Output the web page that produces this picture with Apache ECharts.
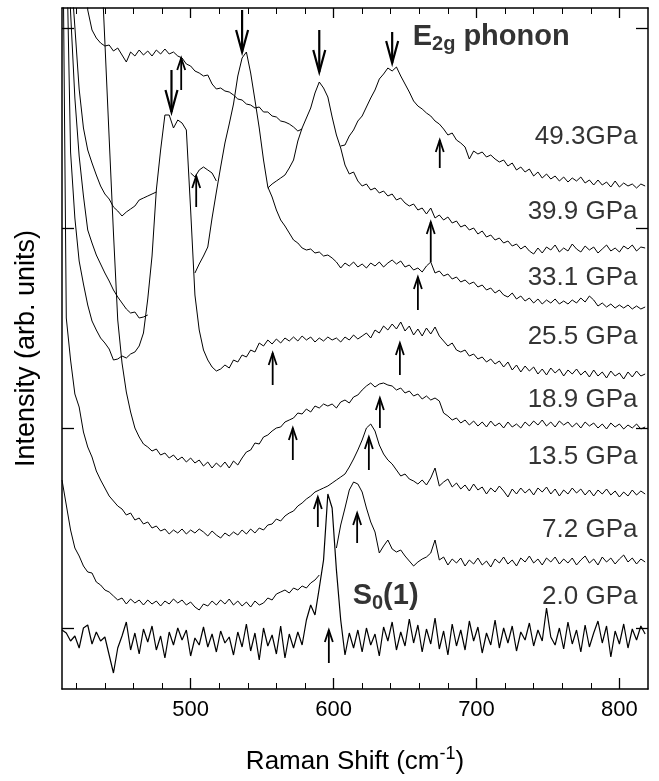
<!DOCTYPE html>
<html>
<head>
<meta charset="utf-8">
<title>Raman spectra under pressure</title>
<script src="https://cdn.jsdelivr.net/npm/echarts@6/dist/echarts.min.js"></script>
<style>
  html, body { margin: 0; padding: 0; background: #fff; }
  #chart { width: 659px; height: 781px; }
</style>
</head>
<body>
<div id="chart"></div>
<script>
// Raman shift sampling (cm^-1)
const shift = [410,413,416,419,422,425,428,431,434,437,440,443,446,449,452,455,458,461,464,467,
  470,473,476,479,482,485,488,491,494,497,500,503,506,509,512,515,518,521,524,527,
  530,533,536,539,542,545,548,551,554,557,560,563,566,569,572,575,578,581,584,587,
  590,593,596,599,602,605,608,611,614,617,620,623,626,629,632,635,638,641,644,647,
  650,653,656,659,662,665,668,671,674,677,680,683,686,689,692,695,698,701,704,707,
  710,713,716,719,722,725,728,731,734,737,740,743,746,749,752,755,758,761,764,767,
  770,773,776,779,782,785,788,791,794,797,800,803,806,809,812,815,818];

// stacked spectra (arb. units, offset as plotted). null = hidden behind a lower trace
const p49_3 = [800,800,800,800,800,800,618,598,590,585, 582,583,577,580,573,566,576,572,578,573,
  577,572,578,574,579,574,576,572,570,564, 562,557,555,552,553,544,539,540,537,536,
  533,529,528,524,523,520,521,516,516,512, 511,507,506,504,501,497,499,null,null,null,
  null,null,null,null,null,482,483,492,498,507, 512,521,530,538,549,554,560,557,561,552,
  544,536,527,522,519,515,512,507,504,499, 493,495,488,485,481,469,477,474,476,471,
  473,469,466,468,462,465,458,461,456,459, 452,456,450,454,449,452,447,451,446,450,
  447,451,445,448,443,448,443,446,441,447, 441,445,442,444,440,444,442];

const p39_9 = [800,800,662,601,539,500,478,465,453,442, 434,429,421,417,412,416,419,422,428,430,
  432,434,436,null,null,null,null,null,null,null, 455,451,458,461,458,455,447,null,null,null,
  null,null,null,null,null,null,null,null,440,444, 447,450,453,460,468,487,500,510,520,535,
  546,540,531,511,493,480,463,454,456,447, 442,444,438,440,435,437,432,434,428,430,
  425,422,424,418,420,414,420,410,413,408, 411,405,407,401,403,398,400,394,397,391,
  393,388,390,385,387,382,384,379,382,377, 374,380,375,381,378,383,376,380,377,384,
  379,376,382,378,381,375,379,383,377,380, 376,382,379,383,377,381,380];

const p33_1 = [800,700,616,530,472,432,398,385,373,364, 355,347,338,331,325,319,315,316,310,311,
  313,null,null,null,null,null,null,null,null,null, null,355,364,372,381,410,436,461,485,504,
  524,552,570,576,555,528,500,468,441,431, 418,408,402,395,388,385,380,378,379,375,
  376,372,373,370,366,360,365,362,366,361, 364,360,365,362,366,361,365,368,364,367,
  361,363,358,360,356,362,366,355,357,352, 354,349,351,346,348,344,346,341,343,338,
  340,335,338,333,331,335,329,332,327,330, 325,329,324,328,325,329,324,327,324,328,
  325,330,326,332,328,322,325,321,324,320, 323,320,323,319,322,319,321];

const p25_5 = [800,698,476,410,367,344,323,307,298,290, 285,279,268,269,272,270,274,276,282,295,
  329,372,438,478,513,513,500,508,505,498, 418,333,298,278,268,261,257,259,263,260,
  268,266,273,271,278,276,285,282,288,284, 289,285,290,287,291,287,292,288,291,286,
  290,287,291,288,290,286,291,288,293,289, 292,295,290,298,295,302,298,304,299,306,
  297,302,293,299,292,300,294,301,292,287, 282,285,278,276,278,272,274,269,271,266,
  269,264,267,261,266,258,263,256,262,257, 261,254,259,253,260,255,259,252,258,254,
  259,253,257,251,258,252,256,250,257,252, 255,249,256,251,257,252,254];

const p18_9 = [800,800,800,800,800,800,800,800,800,681, 586,490,395,308,265,236,216,200,191,184,
  181,177,179,173,175,170,173,168,171,166, 170,165,168,162,166,160,165,161,166,160,
  167,163,170,176,178,185,184,191,193,197, 200,201,206,208,210,215,214,219,216,222,
  220,224,222,224,220,226,228,225,231,233, 238,242,245,241,244,245,243,242,238,240,
  235,237,232,234,229,232,228,230,227,215, 212,208,210,205,208,203,207,202,206,201,
  207,202,205,200,206,201,204,200,206,202, 207,203,208,202,206,201,207,203,206,201,
  205,200,206,202,205,200,204,199,205,201, 204,199,203,200,204,199,201];

const p13_5 = [800,310,268,234,221,196,181,171,157,148, 140,132,127,122,119,113,115,108,110,104,
  106,100,102,97,99,94,98,95,99,94, 98,95,99,96,92,97,93,90,95,92,
  96,93,98,94,99,95,100,98,103,104, 109,107,112,115,117,122,125,129,132,136,
  138,140,142,145,148,151,154,161,169,178, 188,200,204,197,183,174,168,164,158,152,
  154,149,147,144,148,143,150,160,142,146, 149,141,145,139,143,137,144,138,141,134,
  140,136,142,137,131,139,134,140,135,139, 133,140,136,141,134,139,132,138,134,140,
  135,139,133,138,132,138,134,139,133,137, 131,136,132,138,133,137,134];

const p7_2 = [148,123,98,80,72,62,56,55,46,43, 38,36,32,28,30,24,29,25,28,23,
  28,24,27,22,27,24,29,25,28,23, 26,21,18,24,22,27,23,28,24,29,
  23,27,22,26,21,27,23,25,30,28, 34,36,38,35,40,38,42,40,45,48,
  53,null,null,null,80,103,120,138,146,144, 136,120,106,96,75,82,88,79,76,78,
  72,67,62,66,69,71,75,88,68,71, 63,69,65,70,62,68,64,70,63,67,
  61,69,65,71,64,68,62,70,66,72, 65,69,63,70,66,71,64,69,65,70,
  63,68,72,65,69,63,71,66,70,64, 69,73,66,70,64,69,66];

const p2_0 = [-2,-5,-13,-8,-20,0,3,-16,-4,-13, -9,-27,-45,-20,-8,6,-22,-5,-26,-1,
  -14,2,-22,-8,-30,-4,-17,0,-12,-2, -28,-10,-17,1,-19,-6,-24,-3,-15,-9,
  -27,-4,-19,4,-23,-5,-32,0,-18,-7, -26,2,-30,-6,-20,-4,-17,8,23,13,
  40,68,134,120,58,8,-27,-5,-20,-2, -24,0,-17,-6,-28,1,-13,6,-22,-4,
  -18,9,-15,3,-24,-1,-16,10,-21,-3, -27,4,-18,-2,-22,7,-13,1,-25,-5,
  -17,8,-20,0,-15,2,-23,-4,-12,5, -18,-2,-13,20,-9,-17,0,-21,6,-16,
  -2,-24,3,-19,-5,7,-15,2,-29,-3, -16,4,-20,-1,-12,2,-6];

const pressures = ['49.3GPa', '39.9 GPa', '33.1 GPa', '25.5 GPa', '18.9 GPa', '13.5 GPa', '7.2 GPa', '2.0 GPa'];
const spectra = [p49_3, p39_9, p33_1, p25_5, p18_9, p13_5, p7_2, p2_0];
const pressureLabelY = [491, 416, 350, 291, 228, 171, 98, 31];

// E2g phonon markers (down arrows): shift, tail, tip
const e2gX = [486.6, 536.0, 590.0, 641.0];
const e2gTail = [558, 618, 598, 596];
const e2gTip = [516, 576, 556, 565];

// other features (up arrows)
const upX = [493.4, 503.9, 674.3, 668.0, 659.0, 557.4, 646.4, 571.5, 632.4, 624.7, 589.0, 616.5, 596.7];
const upTail = [538, 421, 460, 366, 318, 243, 253, 168, 200, 158, 101, 85, -35];
const upTip = [570, 452, 488, 406, 351, 275, 285, 200, 230, 191, 131, 115, -2];

const majorTicks = [500, 600, 700, 800];
const minorTicks = [420, 440, 460, 480, 520, 540, 560, 580, 620, 640, 660, 680, 720, 740, 760, 780];
const yTicks = [0, 200, 400, 600];

const FONT = '"Liberation Sans", Arial, Helvetica, sans-serif';
const BLACK = '#000';

const chart = echarts.init(document.getElementById('chart'));

function arrowRenderer(head, half, width) {
  return function (params, api) {
    const tail = api.coord([api.value(0), api.value(1)]);
    const tip = api.coord([api.value(0), api.value(2)]);
    const dir = tip[1] > tail[1] ? 1 : -1;
    return {
      type: 'group',
      children: [
        { type: 'line', shape: { x1: tail[0], y1: tail[1], x2: tip[0], y2: tip[1] },
          style: { stroke: BLACK, lineWidth: width } },
        { type: 'polyline',
          shape: { points: [[tip[0] - half, tip[1] - dir * head], [tip[0], tip[1]], [tip[0] + half, tip[1] - dir * head]] },
          style: { stroke: BLACK, fill: null, lineWidth: width } }
      ]
    };
  };
}

const xBase = { type: 'value', min: 410, max: 820, splitLine: { show: false } };
const yBase = { type: 'value', min: -61, max: 620, splitLine: { show: false } };
const frame = { show: true, onZero: false, lineStyle: { color: BLACK, width: 1.5 } };

const option = {
  animation: false,
  backgroundColor: '#fff',
  grid: { left: 62, right: 11, top: 8, bottom: 92, containLabel: false, outerBoundsMode: 'none' },
  xAxis: [
    Object.assign({}, xBase, {
      position: 'bottom',
      axisLine: frame,
      axisTick: { show: true, inside: true, length: 11, customValues: majorTicks, lineStyle: { color: BLACK, width: 1.3 } },
      axisLabel: { customValues: majorTicks, color: BLACK, fontSize: 22, fontFamily: FONT, margin: 10 },
      name: '{n|Raman Shift (cm}{p|-1}{n|)}',
      nameLocation: 'middle',
      nameGap: 56,
      nameTextStyle: {
        rich: {
          n: { fontSize: 26, fontFamily: FONT, color: BLACK, verticalAlign: 'bottom', lineHeight: 30 },
          p: { fontSize: 18, fontFamily: FONT, color: BLACK, verticalAlign: 'top', lineHeight: 18, padding: [0, 0, 20, 0] }
        }
      }
    }),
    Object.assign({}, xBase, {
      position: 'bottom',
      axisLine: { show: false, onZero: false },
      axisTick: { show: true, inside: true, length: 6, customValues: minorTicks, lineStyle: { color: BLACK, width: 1 } },
      axisLabel: { show: false }
    }),
    Object.assign({}, xBase, {
      position: 'top',
      axisLine: frame,
      axisTick: { show: true, inside: true, length: 10, customValues: majorTicks, lineStyle: { color: BLACK, width: 1.3 } },
      axisLabel: { show: false }
    }),
    Object.assign({}, xBase, {
      position: 'top',
      axisLine: { show: false, onZero: false },
      axisTick: { show: true, inside: true, length: 6, customValues: minorTicks, lineStyle: { color: BLACK, width: 1 } },
      axisLabel: { show: false }
    })
  ],
  yAxis: [
    Object.assign({}, yBase, {
      position: 'left',
      axisLine: frame,
      axisTick: { show: true, inside: true, length: 12, customValues: yTicks, lineStyle: { color: BLACK, width: 1.3 } },
      axisLabel: { show: false },
      name: 'Intensity (arb. units)',
      nameLocation: 'middle',
      nameRotate: 90,
      nameGap: 22,
      nameTextStyle: { fontSize: 27, fontFamily: FONT, color: BLACK }
    }),
    Object.assign({}, yBase, {
      position: 'right',
      axisLine: frame,
      axisTick: { show: true, inside: true, length: 12, customValues: yTicks, lineStyle: { color: BLACK, width: 1.3 } },
      axisLabel: { show: false }
    })
  ],
  series: []
};

spectra.forEach((vals, i) => {
  option.series.push({
    name: pressures[i],
    type: 'line',
    data: shift.map((x, j) => [x, vals[j]]),
    symbol: 'none',
    connectNulls: false,
    clip: true,
    silent: true,
    lineStyle: { color: BLACK, width: i === spectra.length - 1 ? 1.2 : 1 }
  });
});

option.series.push({
  type: 'custom',
  renderItem: arrowRenderer(22, 6, 2.2),
  encode: { x: 0, y: [1, 2] },
  data: e2gX.map((x, i) => [x, e2gTail[i], e2gTip[i]]),
  silent: true,
  z: 5
});

option.series.push({
  type: 'custom',
  renderItem: arrowRenderer(12, 4, 1.8),
  encode: { x: 0, y: [1, 2] },
  data: upX.map((x, i) => [x, upTail[i], upTip[i]]),
  silent: true,
  z: 5
});

option.series.push({
  type: 'scatter',
  symbolSize: 1,
  itemStyle: { color: 'rgba(0,0,0,0)' },
  silent: true,
  data: pressureLabelY.map((y, i) => ({ value: [813, y], name: pressures[i] })),
  label: { show: true, position: 'left', distance: 0, formatter: '{b}', fontSize: 26, fontFamily: FONT, color: BLACK },
  z: 6
});

// peak annotations
option.series.push({
  type: 'scatter',
  symbolSize: 1,
  itemStyle: { color: 'rgba(0,0,0,0)' },
  silent: true,
  data: [
    { value: [655, 590], label: { formatter: '{m|E}{s|2g}{m| phonon}' } },
    { value: [613, 31], label: { formatter: '{m|S}{s|0}{m|(1)}' } }
  ],
  label: {
    show: true, position: 'right', distance: 0,
    rich: {
      m: { fontSize: 29, fontWeight: 'bold', fontFamily: FONT, color: BLACK, verticalAlign: 'top', lineHeight: 32 },
      s: { fontSize: 20, fontWeight: 'bold', fontFamily: FONT, color: BLACK, verticalAlign: 'bottom', lineHeight: 20, padding: [18, 0, 0, 0] }
    }
  },
  z: 6
});

chart.setOption(option);
window.addEventListener('resize', () => chart.resize());
</script>
</body>
</html>
